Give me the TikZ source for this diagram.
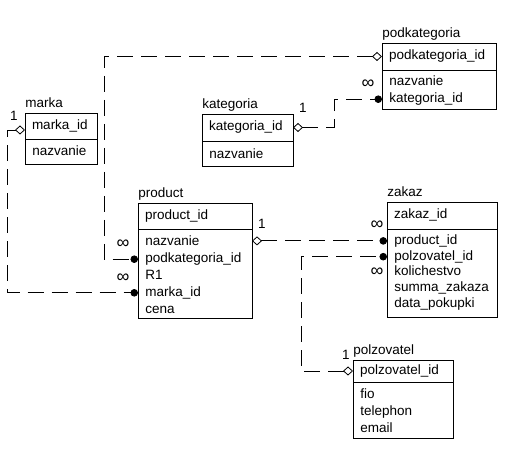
\documentclass[tikz,border=0pt]{standalone}
\usepackage{fontspec}
\setmainfont{Liberation Sans}
\usetikzlibrary{positioning, arrows.meta}

\tikzset{
  keybox/.style={draw, outer sep=0pt, inner xsep=7pt, inner ysep=0pt, minimum height=26pt, text height=10pt, text depth=3pt, align=left, anchor=north west},
  attrbox/.style={draw, outer sep=0pt, inner sep=0pt, anchor=north west},
  field/.style={inner sep=0pt, minimum height=16pt, text height=10pt, text depth=3pt},
  title/.style={inner sep=0pt, text height=10pt, text depth=3pt},
  rel/.style={dash pattern=on 16pt off 8pt, {Diamond[open, length=10pt, width=9pt]}-{Circle[length=7.5pt]}},
  lbl/.style={inner sep=0pt},
  many/.style={inner sep=0pt, font=\fontsize{18}{18}\selectfont}
}

\begin{document}
\begin{tikzpicture}[x=1pt, y=1pt, line width=0.8pt, font=\fontsize{13.5}{16}\selectfont]
    \useasboundingbox (0,0) rectangle (512,-449);

    % marka
    \node[keybox, text width=58pt] (markey) at (25,-113) {marka\_id};
    \node[attrbox, minimum width=72pt, minimum height=25pt] (markattr) at (markey.south west) {};
    \node[title, above right=2pt and 0pt of markey.north west] (marktitle) {marka};
    \node[field, below right=5pt and 7pt of markattr.north west] (mn) {nazvanie};

    % podkategoria
    \node[keybox, text width=100pt, minimum height=27pt] (podkey) at (382,-43) {podkategoria\_id};
    \node[attrbox, minimum width=114pt, minimum height=39pt] (podattr) at (podkey.south west) {};
    \node[title, above right=2pt and 0pt of podkey.north west] (podtitle) {podkategoria};
    \node[field, below right=4pt and 7pt of podattr.north west] (pn) {nazvanie};
    \node[field, below=0pt of pn.south west, anchor=north west] (pkid) {kategoria\_id};

    % kategoria
    \node[keybox, text width=77pt, minimum height=27pt] (katkey) at (202,-114) {kategoria\_id};
    \node[attrbox, minimum width=91pt, minimum height=25pt] (katattr) at (katkey.south west) {};
    \node[title, above right=2pt and 0pt of katkey.north west] (kattitle) {kategoria};
    \node[field, below right=6pt and 7pt of katattr.north west] (kn) {nazvanie};

    % product
    \node[keybox, text width=100pt] (prodkey) at (138,-203) {product\_id};
    \node[attrbox, minimum width=114pt, minimum height=89pt] (prodattr) at (prodkey.south west) {};
    \node[title, above right=2pt and 0pt of prodkey.north west] (prodtitle) {product};
    \node[field, below right=5pt and 7pt of prodattr.north west] (pnaz) {nazvanie};
    \node[field, below=0pt of pnaz.south west, anchor=north west] (ppk) {podkategoria\_id};
    \node[field, below=0pt of ppk.south west, anchor=north west] (pr) {R1};
    \node[field, below=0pt of pr.south west, anchor=north west] (pm) {marka\_id};
    \node[field, below=0pt of pm.south west, anchor=north west] (pc) {cena};

    % zakaz
    \node[keybox, text width=96pt, minimum height=27pt] (zakkey) at (387,-202) {zakaz\_id};
    \node[attrbox, minimum width=110pt, minimum height=88pt] (zakattr) at (zakkey.south west) {};
    \node[title, above right=2pt and 0pt of zakkey.north west] (zaktitle) {zakaz};
    \node[field, minimum height=15pt, below right=4pt and 7pt of zakattr.north west] (zp) {product\_id};
    \node[field, minimum height=15pt, below=0pt of zp.south west, anchor=north west] (zpz) {polzovatel\_id};
    \node[field, minimum height=15pt, below=0pt of zpz.south west, anchor=north west] (zk) {kolichestvo};
    \node[field, minimum height=15pt, below=0pt of zk.south west, anchor=north west] (zs) {summa\_zakaza};
    \node[field, minimum height=15pt, below=0pt of zs.south west, anchor=north west] (zd) {data\_pokupki};

    % polzovatel
    \node[keybox, text width=86pt, minimum height=22pt] (polkey) at (353,-360) {polzovatel\_id};
    \node[attrbox, minimum width=100pt, minimum height=56pt] (polattr) at (polkey.south west) {};
    \node[title, above right=2pt and 0pt of polkey.north west] (poltitle) {polzovatel};
    \node[field, below right=5pt and 7pt of polattr.north west] (pf) {fio};
    \node[field, below=0pt of pf.south west, anchor=north west] (pt) {telephon};
    \node[field, below=0pt of pt.south west, anchor=north west] (pe) {email};

    % links
    \draw[rel] (podkey.west) -- ++(-278pt,0) |- (ppk.west -| prodattr.west)
        node[many, at end, xshift=-15pt, yshift=15pt] {∞};
    \draw[rel] (katkey.east) -- ++(41pt,0) node[lbl, at start, xshift=10pt, yshift=20pt] {1}
        |- (pkid.west -| podattr.west) node[many, at end, xshift=-14pt, yshift=15pt] {∞};
    \draw[rel] ([yshift=-4pt]markey.west) -- ++(-18pt,0) node[lbl, at start, xshift=-11pt, yshift=14pt] {1}
        |- (pm.west -| prodattr.west) node[many, at end, xshift=-15pt, yshift=15pt] {∞};
    \draw[rel] (prodattr.east |- zp.west) -- (zp.west -| zakattr.west)
        node[lbl, at start, xshift=10pt, yshift=17pt] {1} node[many, at end, xshift=-10pt, yshift=16pt] {∞};
    \draw[rel] (polkey.west) -- ++(-52pt,0) node[lbl, at start, xshift=-7pt, yshift=16pt] {1}
        |- (zpz.west -| zakattr.west) node[many, at end, xshift=-10pt, yshift=-15pt] {∞};
\end{tikzpicture}
\end{document}
